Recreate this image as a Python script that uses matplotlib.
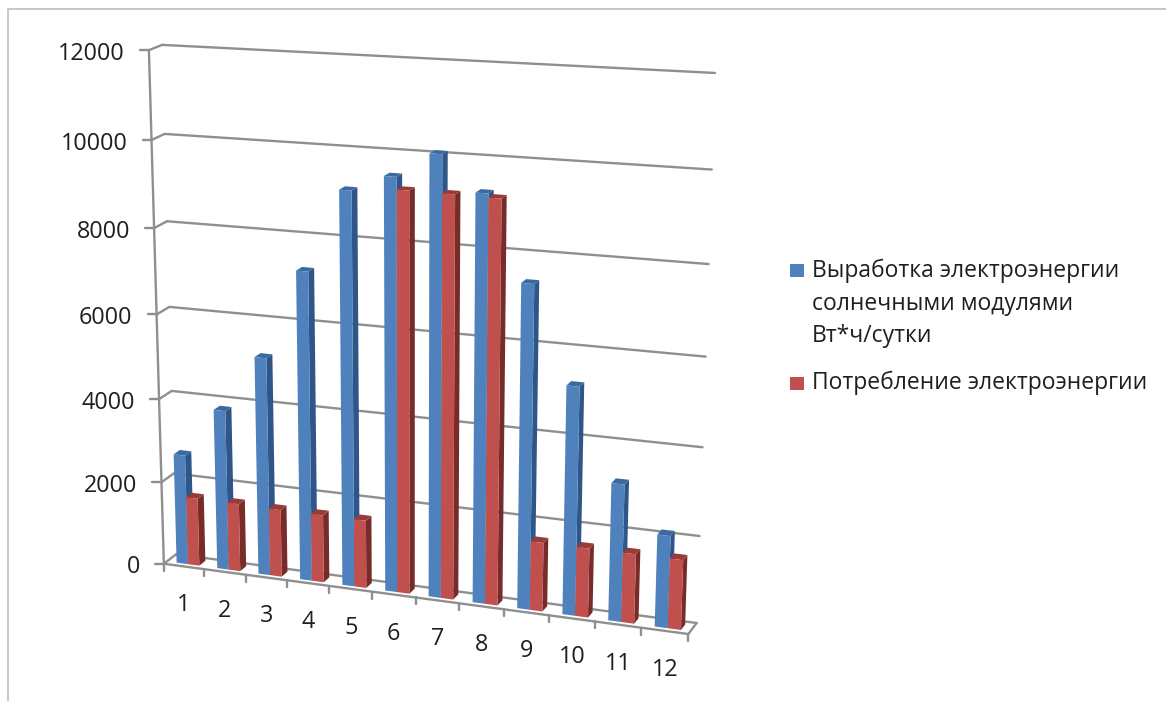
import numpy as np
import matplotlib
matplotlib.use("Agg")
import matplotlib.pyplot as plt
from matplotlib.patches import Polygon, Rectangle

plt.rcParams['font.family'] = ['Open Sans', 'DejaVu Sans']

months = ['1', '2', '3', '4', '5', '6', '7', '8', '9', '10', '11', '12']
generation = [2650, 3825, 5170, 7250, 9140, 9510, 10070, 9290, 7400, 5230, 3150, 2110]
consumption = [1640, 1630, 1610, 1610, 1610, 9230, 9220, 9200, 1600, 1600, 1600, 1600]
y_ticks = [0, 2000, 4000, 6000, 8000, 10000, 12000]
y_max = 12000
name_gen = 'Выработка электроэнергии\nсолнечными модулями\nВт*ч/сутки'
name_con = 'Потребление электроэнергии'

# camera fitted to the corners of the chart box (x, y, depth in 0..1 -> pixels)
box = [(0, 0, 0), (1, 0, 0), (0, 0, 1), (1, 0, 1), (0, 1, 1), (1, 1, 1), (0, 1, 0)]
pix = [(165, 563), (688, 635), (175, 555), (697, 622), (163, 45), (715, 73), (148, 50)]
A = []
b = []
for (x, y, z), (u, v) in zip(box, pix):
    A.append([x, y, z, 1, 0, 0, 0, 0, -u*x, -u*y, -u*z])
    b.append(u)
    A.append([0, 0, 0, 0, x, y, z, 1, -v*x, -v*y, -v*z])
    b.append(v)
P = np.append(np.linalg.lstsq(np.array(A, float), np.array(b, float), rcond=None)[0], 1).reshape(3, 4)


def project(cat, val, depth):
    h = P @ np.array([cat/len(months), val/y_max, depth, 1.0])
    return h[0]/h[2], h[1]/h[2]


def draw_bar(left, right, val, front, side, top):
    z0, z1 = 0.25, 0.75
    ax.add_patch(Polygon([project(right, 0, z0), project(right, 0, z1), project(right, val, z1), project(right, val, z0)],
                         fc=side, ec='none', zorder=3))
    ax.add_patch(Polygon([project(left, val, z0), project(right, val, z0), project(right, val, z1), project(left, val, z1)],
                         fc=top, ec='none', zorder=3))
    ax.add_patch(Polygon([project(left, 0, z0), project(right, 0, z0), project(right, val, z0), project(left, val, z0)],
                         fc=front, ec='none', zorder=3))


def seg(p, q, **kw):
    ax.plot([p[0], q[0]], [p[1], q[1]], color='#8f8f8f', lw=1.7, solid_capstyle='round', zorder=2, **kw)


fig = plt.figure(figsize=(11.66, 7.01), dpi=100)
ax = fig.add_axes([0, 0, 1, 1])
ax.set_xlim(0, 1166)
ax.set_ylim(701, 0)
ax.axis('off')

# screenshot border
ax.plot([8, 8, 1166], [701, 9, 9], color='#bdbdbd', lw=1.2)

n = len(months)
for t in y_ticks:
    seg(project(0, t, 1), project(n, t, 1))
    seg(project(0, t, 0), project(0, t, 1))
    u, v = project(0, t, 0)
    seg((u-9, v), (u, v))
    ax.text(u-24, v+3.5, str(t), ha='right', va='center', fontsize=16.8, color='#1f1f1f')

seg(project(0, 0, 0), project(0, y_max, 0))
seg(project(0, 0, 0), project(n, 0, 0))
seg(project(n, 0, 0), project(n, 0, 1))

for i in range(n+1):
    u, v = project(i, 0, 0)
    seg((u, v), (u, v+7))

for i in range(n):
    draw_bar(i+0.24, i+0.52, generation[i], '#4f81bd', '#2f5689', '#3a6a9f')
    draw_bar(i+0.52, i+0.8, consumption[i], '#c0504d', '#772c2a', '#9a3b38')
    u, v = project(i+0.5, 0, 0)
    ax.text(u, v+39, months[i], ha='center', va='center', fontsize=16.8, color='#1f1f1f')

# legend
ax.add_patch(Rectangle((790, 264), 14, 13, fc='#4f81bd', ec='none'))
ax.add_patch(Rectangle((790, 377), 14, 13, fc='#c0504d', ec='none'))
for k, line in enumerate(name_gen.split('\n')):
    ax.text(812, 271+k*32.5, line, ha='left', va='center', fontsize=16.45, color='#1f1f1f')
ax.text(812, 383, name_con, ha='left', va='center', fontsize=16.45, color='#1f1f1f')

fig.savefig('out.png', dpi=100)
